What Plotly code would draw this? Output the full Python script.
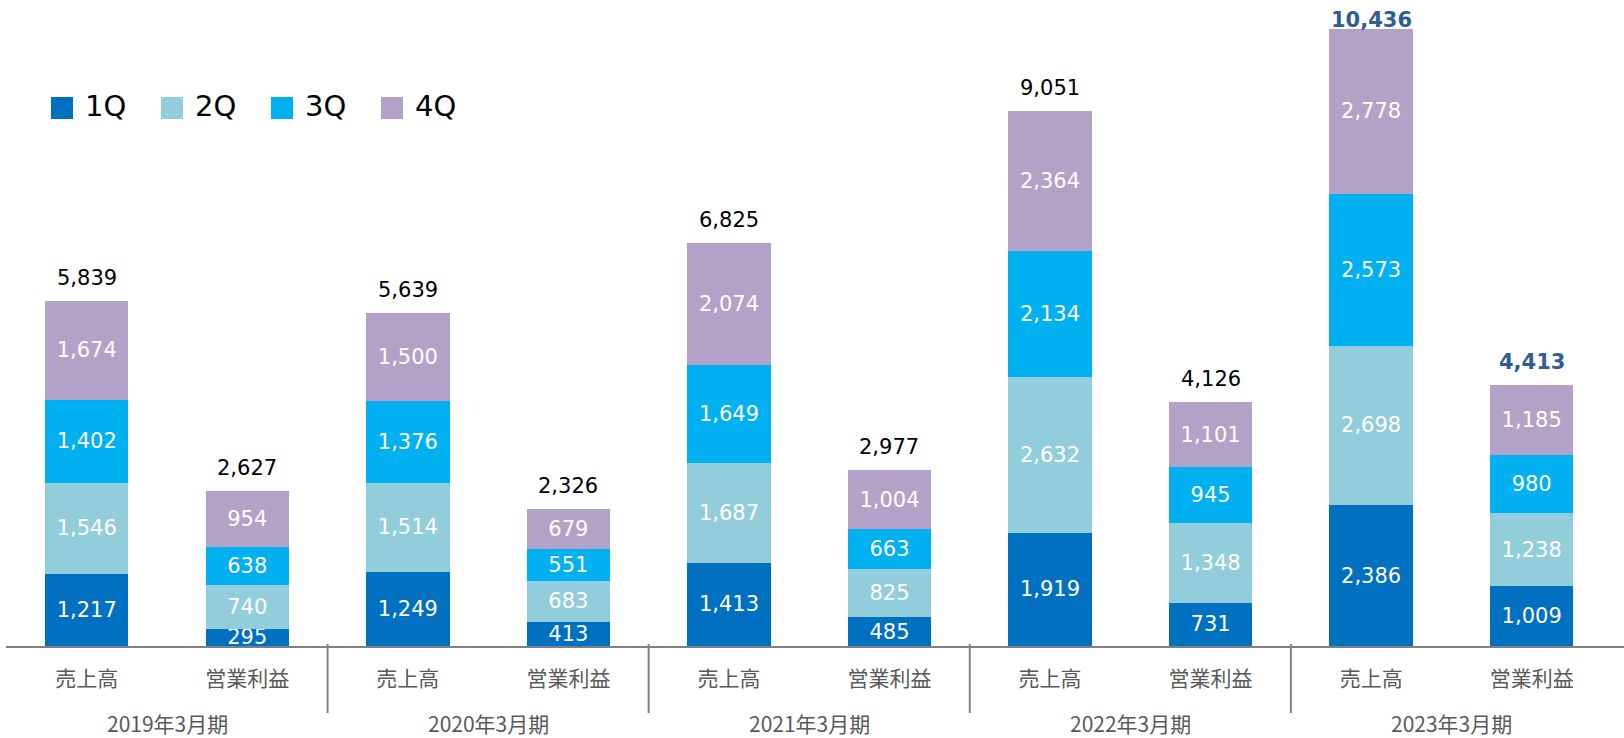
import plotly.graph_objects as go

# ---- data ----
years = ["2019年3月期", "2020年3月期", "2021年3月期", "2022年3月期", "2023年3月期"]
metrics = ["売上高", "営業利益"]
quarters = ["1Q", "2Q", "3Q", "4Q"]
colors = ["#0070C0", "#92CDDC", "#00B0F0", "#B3A2C7"]

# order: (2019 売上高, 2019 営業利益, 2020 売上高, ...)
q1 = [1217, 295, 1249, 413, 1413, 485, 1919, 731, 2386, 1009]
q2 = [1546, 740, 1514, 683, 1687, 825, 2632, 1348, 2698, 1238]
q3 = [1402, 638, 1376, 551, 1649, 663, 2134, 945, 2573, 980]
q4 = [1674, 954, 1500, 679, 2074, 1004, 2364, 1101, 2778, 1185]
totals = [5839, 2627, 5639, 2326, 6825, 2977, 9051, 4126, 10436, 4413]

series = [q1, q2, q3, q4]
cat_labels = [m for _ in years for m in metrics]
xpos = list(range(len(cat_labels)))

W, H = 1624, 738
ML, MR, MT, MB = 6, 0, 10, 92
PW, PH = W - ML - MR, H - MT - MB
YMAX = 10763


def px(xp):
    return (xp - ML) / PW


def py(yp):
    return (H - MB - yp) / PH


NUM_FONT = "DejaVu Sans, Verdana, sans-serif"
JP_FONT = "Noto Sans CJK JP, sans-serif"

fig = go.Figure()
for name, vals, col in zip(quarters, series, colors):
    fig.add_trace(go.Bar(
        x=xpos, y=vals, name=name,
        marker=dict(color=col, line=dict(width=0)),
        width=0.519,
        text=[f"{v:,}" for v in vals],
        textposition="inside",
        insidetextanchor="middle",
        textangle=0,
        constraintext="none",
        textfont=dict(family=NUM_FONT, size=21, color="white"),
        showlegend=False,
        hoverinfo="skip",
    ))

annotations = []
# totals (label squeezed down when it would leave the chart area)
for i, t in enumerate(totals):
    hl = years[i // 2] == "2023年3月期"
    room = PH - t / YMAX * PH
    shift = min(9, room - 24)
    annotations.append(dict(
        x=xpos[i], y=t, xref="x", yref="y",
        text=(f"<b>{t:,}</b>" if hl else f"{t:,}"),
        showarrow=False, yanchor="bottom", yshift=shift,
        font=dict(family=NUM_FONT, size=21, color="#2F5D95" if hl else "black"),
    ))

# year group labels
for g, yname in enumerate(years):
    annotations.append(dict(
        x=2 * g + 0.5, y=py(723), xref="x", yref="paper",
        text=yname, showarrow=False, yanchor="middle",
        font=dict(family=JP_FONT, size=21, color="#595959"),
    ))

shapes = []
# group dividers
for g in range(1, len(years)):
    shapes.append(dict(
        type="line", xref="x", yref="paper",
        x0=2 * g - 0.5, x1=2 * g - 0.5, y0=py(644), y1=py(713),
        line=dict(color="#808080", width=2),
    ))

# legend
leg_sq_x = [51, 161, 271, 381]
for k, (name, col) in enumerate(zip(quarters, colors)):
    x0 = leg_sq_x[k]
    shapes.append(dict(
        type="rect", xref="paper", yref="paper",
        x0=px(x0), x1=px(x0 + 22), y0=py(119), y1=py(97),
        fillcolor=col, line=dict(width=0),
    ))
    annotations.append(dict(
        x=px(x0 + 32), y=py(106), xref="paper", yref="paper",
        text=name, showarrow=False, xanchor="left", yanchor="middle",
        font=dict(family=NUM_FONT, size=29, color="black"),
    ))

fig.update_layout(
    barmode="stack",
    width=W, height=H,
    margin=dict(l=ML, r=MR, t=MT, b=MB, pad=0),
    plot_bgcolor="white", paper_bgcolor="white",
    annotations=annotations, shapes=shapes,
    xaxis=dict(
        range=[-0.503, 9.575],
        tickmode="array", tickvals=xpos, ticktext=cat_labels,
        tickfont=dict(family=JP_FONT, size=21, color="#595959"),
        showline=True, linecolor="#808080", linewidth=2,
        showgrid=False, zeroline=False, ticks="",
        ticklabelstandoff=13,
    ),
    yaxis=dict(range=[0, YMAX], visible=False, showgrid=False, zeroline=False),
    showlegend=False,
)

fig.write_html(
    "out.html",
    config={"displayModeBar": False},
    post_script="document.body.style.margin='0';document.body.style.overflow='hidden';",
)
